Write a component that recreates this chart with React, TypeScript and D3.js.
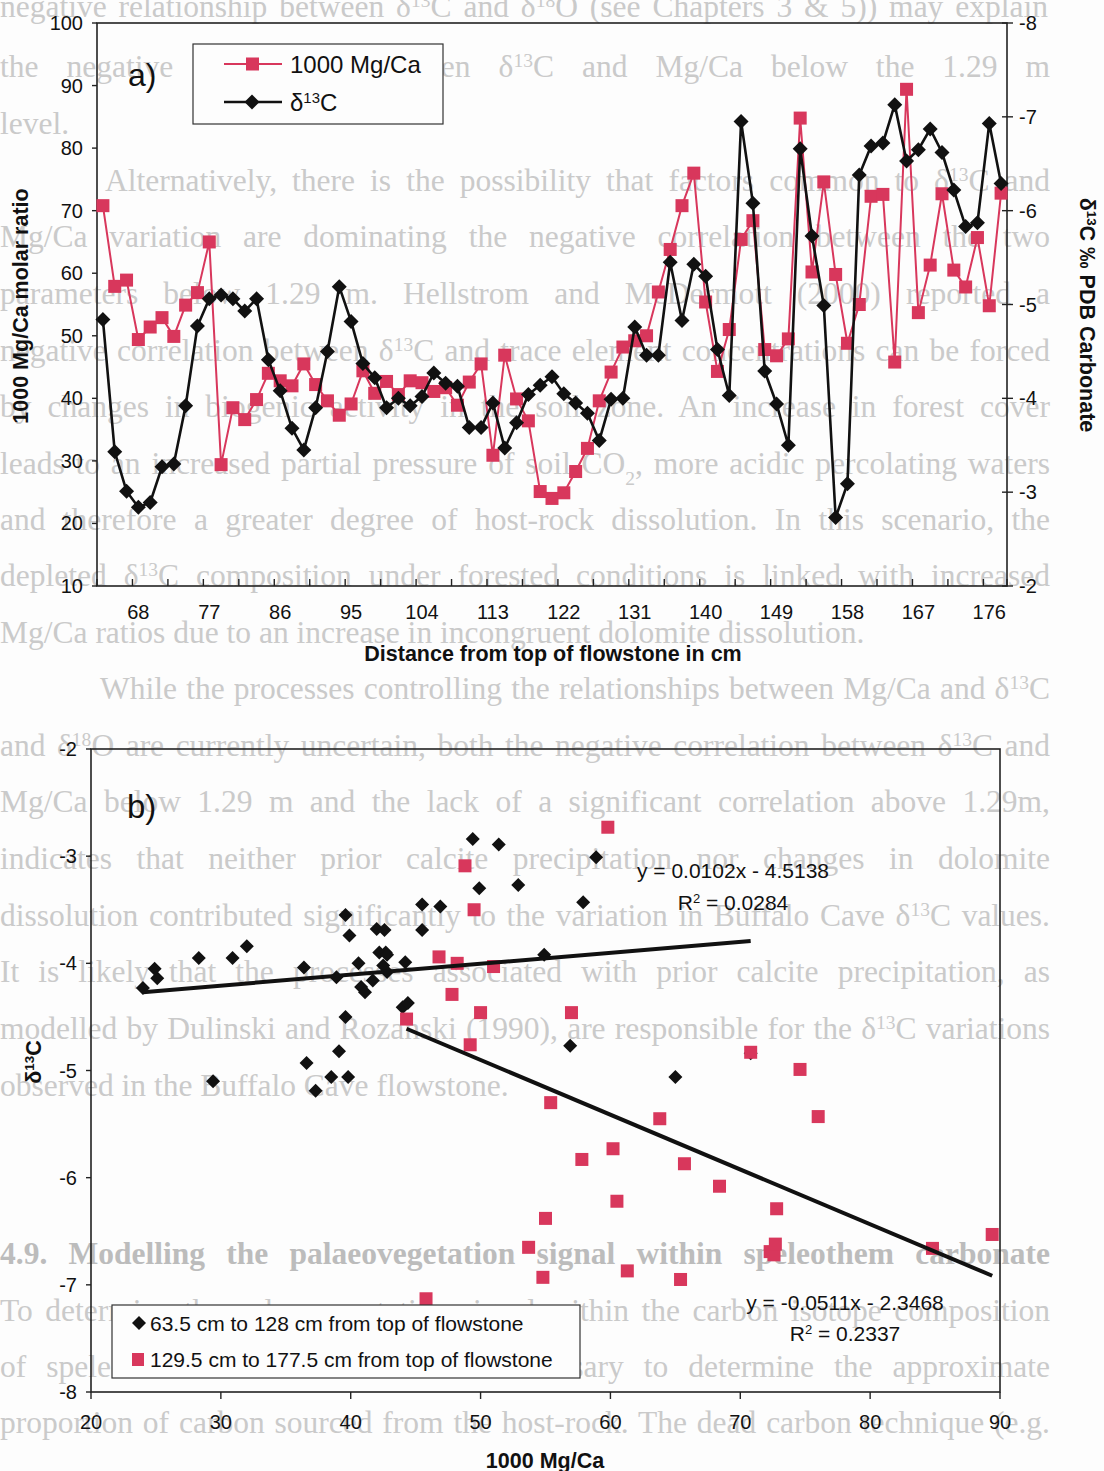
import React, { useLayoutEffect, useRef } from "react";
import * as d3 from "d3";

// Sample depths (cm from top of flowstone), one per measurement
const depthCm = [
  63.5, 65, 66.5, 68, 69.5, 71, 72.5, 74, 75.5, 77, 78.5, 80, 81.5, 83, 84.5, 86,
  87.5, 89, 90.5, 92, 93.5, 95, 96.5, 98, 99.5, 101, 102.5, 104, 105.5, 107, 108.5,
  110, 111.5, 113, 114.5, 116, 117.5, 119, 120.5, 122, 123.5, 125, 126.5, 128, 129.5,
  131, 132.5, 134, 135.5, 137, 138.5, 140, 141.5, 143, 144.5, 146, 147.5, 149, 150.5,
  152, 153.5, 155, 156.5, 158, 159.5, 161, 162.5, 164, 165.5, 167, 168.5, 170, 171.5,
  173, 174.5, 176, 177.5,
];

// 1000 Mg/Ca molar ratio
const mgCa = [
  70.8, 57.9, 58.9, 49.4, 51.4, 52.9, 49.9, 54.9, 56.9, 65.0,
  29.4, 38.5, 36.6, 39.8, 44.0, 42.8, 42.0, 45.5, 42.2, 39.6,
  37.3, 39.1, 44.4, 40.8, 42.7, 40.6, 42.8, 42.5, 41.1, 41.7,
  38.9, 42.6, 45.5, 30.9, 46.9, 39.9, 36.4, 25.1, 24.0, 24.9,
  28.3, 32.0, 39.6, 44.2, 48.2, 49.2, 50.0, 57.0, 63.8, 70.8,
  76.0, 55.4, 44.3, 51.0, 65.4, 68.4, 47.8, 46.8, 49.5, 84.8,
  60.2, 74.6, 59.8, 48.8, 55.0, 72.3, 72.6, 45.8, 89.4, 53.7,
  61.3, 72.7, 60.5, 57.8, 65.7, 54.8, 72.8,
];

// δ13C ‰ PDB carbonate
const d13C = [
  -4.84, -3.43, -3.01, -2.84, -2.89, -3.27, -3.30, -3.92, -4.77, -5.06,
  -5.10, -5.06, -4.93, -5.06, -4.41, -4.08, -3.68, -3.45, -3.90, -4.50,
  -5.19, -4.82, -4.37, -4.22, -3.90, -4.00, -3.92, -4.02, -4.27, -4.16,
  -4.13, -3.69, -3.69, -3.95, -3.47, -3.74, -4.04, -4.14, -4.23, -4.05,
  -3.95, -3.84, -3.55, -3.99, -4.00, -4.76, -4.46, -4.46, -5.45, -4.83,
  -5.43, -5.30, -4.52, -4.03, -6.95, -6.08, -4.29, -3.94, -3.50, -6.66,
  -5.73, -4.99, -2.73, -3.09, -6.38, -6.69, -6.72, -7.13, -6.53, -6.65,
  -6.87, -6.62, -6.22, -5.83, -5.87, -6.93, -6.29,
];

const depthTickLabels = [68, 77, 86, 95, 104, 113, 122, 131, 140, 149, 158, 167, 176];
const mgTicks = [10, 20, 30, 40, 50, 60, 70, 80, 90, 100];
const d13Ticks = [-8, -7, -6, -5, -4, -3, -2];
const scatterXTicks = [20, 30, 40, 50, 60, 70, 80, 90];
const scatterYTicks = [-2, -3, -4, -5, -6, -7, -8];

// Depth split between the two scatter groups
const upperGroupMaxDepth = 128;

// Linear fits as printed on the scatter plot
const upperFit = { slope: 0.0102, intercept: -4.5138, eq: "y = 0.0102x - 4.5138", r2: "0.0284" };
const lowerFit = { slope: -0.0511, intercept: -2.3468, eq: "y = -0.0511x - 2.3468", r2: "0.2337" };

// Body text of the page behind the figure (w = justified line width)
const pageLines = [
  { y: 17, x: 0, w: 1048, t: "negative relationship between δ^13C and δ^18O (see Chapters 3 & 5)) may explain" },
  { y: 77, x: 0, w: 1050, t: "the negative correlation between δ^13C and Mg/Ca below the 1.29 m" },
  { y: 134, x: 0, t: "level." },
  { y: 191, x: 105, w: 945, t: "Alternatively, there is the possibility that factors common to δ^13C and" },
  { y: 247, x: 0, w: 1050, t: "Mg/Ca variation are dominating the negative correlation between the two" },
  { y: 304, x: 0, w: 1050, t: "parameters below 1.29 m. Hellstrom and McDermott (2000) reported a" },
  { y: 361, x: 0, w: 1050, t: "negative correlation between δ^13C and trace element concentrations can be forced" },
  { y: 417, x: 0, w: 1050, t: "by changes in biogenic activity in the soil zone. An increase in forest cover" },
  { y: 474, x: 0, w: 1050, t: "leads to an increased partial pressure of soil CO_2, more acidic percolating waters" },
  { y: 530, x: 0, w: 1050, t: "and therefore a greater degree of host-rock dissolution. In this scenario, the" },
  { y: 586, x: 0, w: 1050, t: "depleted δ^13C composition under forested conditions is linked with increased" },
  { y: 643, x: 0, t: "Mg/Ca ratios due to an increase in incongruent dolomite dissolution." },
  { y: 699, x: 100, w: 950, t: "While the processes controlling the relationships between Mg/Ca and δ^13C" },
  { y: 756, x: 0, w: 1050, t: "and δ^18O are currently uncertain, both the negative correlation between δ^13C and" },
  { y: 812, x: 0, w: 1050, t: "Mg/Ca below 1.29 m and the lack of a significant correlation above 1.29m," },
  { y: 869, x: 0, w: 1050, t: "indicates that neither prior calcite precipitation nor changes in dolomite" },
  { y: 926, x: 0, w: 1050, t: "dissolution contributed significantly to the variation in Buffalo Cave δ^13C values." },
  { y: 982, x: 0, w: 1050, t: "It is likely that the processes associated with prior calcite precipitation, as" },
  { y: 1039, x: 0, w: 1050, t: "modelled by Dulinski and Rozanski (1990), are responsible for the δ^13C variations" },
  { y: 1096, x: 0, t: "observed in the Buffalo Cave flowstone." },
  { y: 1264, x: 0, w: 1050, t: "4.9. Modelling the palaeovegetation signal within speleothem carbonate", bold: true },
  { y: 1321, x: 0, w: 1050, t: "To determine the palaeovegetation signal within the carbon isotope composition" },
  { y: 1377, x: 0, w: 1050, t: "of speleothem carbonate it is first necessary to determine the approximate" },
  { y: 1433, x: 0, w: 1050, t: "proportion of carbon sourced from the host-rock. The dead carbon technique (e.g." },
];

const RED = "#d8375c";
const INK = "#111";
const SANS = "'Liberation Sans', Arial, sans-serif";
const PAPER = "#fdfdfd";

// "^13" -> superscript, "_2" -> subscript
function rich(s: string) {
  return s
    .split(/(\^\d+|_\d+)/)
    .filter(Boolean)
    .map((p, k) => {
      if (p.startsWith("^"))
        return (
          <tspan key={k} baselineShift="super" fontSize="0.62em">
            {p.slice(1)}
          </tspan>
        );
      if (p.startsWith("_"))
        return (
          <tspan key={k} baselineShift="sub" fontSize="0.62em">
            {p.slice(1)}
          </tspan>
        );
      return <tspan key={k}>{p}</tspan>;
    });
}

const diamond = (r: number) => `M0,${-r}L${r},0L0,${r}L${-r},0Z`;

function PageText() {
  const ref = useRef<SVGGElement>(null);
  useLayoutEffect(() => {
    const justify = () => {
      const g = ref.current;
      if (!g) return;
      g.querySelectorAll("text[data-w]").forEach((node) => {
        const el = node as SVGTextElement;
        const w = Number(el.getAttribute("data-w"));
        el.removeAttribute("word-spacing");
        el.removeAttribute("textLength");
        const len = el.getComputedTextLength();
        const spaces = (el.textContent || "").split(" ").length - 1;
        if (len < w && spaces > 0) {
          el.setAttribute("word-spacing", String((w - len) / spaces));
        } else if (len > w) {
          el.setAttribute("textLength", String(w));
          el.setAttribute("lengthAdjust", "spacingAndGlyphs");
        }
      });
    };
    justify();
    if ((document as any).fonts?.ready) (document as any).fonts.ready.then(justify);
  }, []);
  return (
    <g ref={ref} fontFamily="'Liberation Serif', 'Times New Roman', serif" fontSize={31.5}>
      {pageLines.map((ln, k) => (
        <text
          key={k}
          x={ln.x}
          y={ln.y}
          fill={ln.bold ? "#bcbcbc" : "#cacaca"}
          fontWeight={ln.bold ? "bold" : "normal"}
          data-w={ln.w}
        >
          {rich(ln.t)}
        </text>
      ))}
    </g>
  );
}

function TimeSeries() {
  const L = 97, R = 1007, T = 23, B = 586;
  const x = d3.scaleBand<number>().domain(depthCm).range([L, R]);
  const bw = x.bandwidth();
  const cx = (d: number) => (x(d) as number) + bw / 2;
  const yMg = d3.scaleLinear().domain([10, 100]).range([B, T]);
  const yD = d3.scaleLinear().domain([-8, -2]).range([T, B]);

  const mgLine = d3.line<number>().x((_, i) => cx(depthCm[i])).y((v) => yMg(v))(mgCa) || "";
  const dLine = d3.line<number>().x((_, i) => cx(depthCm[i])).y((v) => yD(v))(d13C) || "";

  const tickIdx: number[] = [];
  for (let i = 0; i < depthCm.length; i += 3) tickIdx.push(i);
  tickIdx.push(depthCm.length);

  return (
    <g fontFamily={SANS}>
      <rect x={L} y={T} width={R - L} height={B - T} fill="none" stroke="#222" strokeWidth={1.6} />
      {mgTicks.map((v) => (
        <g key={"l" + v}>
          <line x1={L - 5} x2={L} y1={yMg(v)} y2={yMg(v)} stroke="#222" strokeWidth={1.4} />
          <text x={L - 14} y={yMg(v)} dy="0.35em" textAnchor="end" fontSize={20} fill={INK}>
            {v}
          </text>
        </g>
      ))}
      {d13Ticks.map((v) => (
        <g key={"r" + v}>
          <line x1={R - 5} x2={R + 6} y1={yD(v)} y2={yD(v)} stroke="#222" strokeWidth={1.4} />
          <text x={R + 12} y={yD(v)} dy="0.35em" textAnchor="start" fontSize={20} fill={INK}>
            {v}
          </text>
        </g>
      ))}
      {tickIdx.map((i) => (
        <line key={"t" + i} x1={L + i * bw} x2={L + i * bw} y1={B - 7} y2={B} stroke="#222" strokeWidth={1.4} />
      ))}
      {depthTickLabels.map((d) => (
        <text key={"x" + d} x={cx(d)} y={619} textAnchor="middle" fontSize={20} fill={INK}>
          {d}
        </text>
      ))}

      <path d={mgLine} fill="none" stroke={RED} strokeWidth={2} />
      {mgCa.map((v, i) => (
        <rect key={"m" + i} x={cx(depthCm[i]) - 6.5} y={yMg(v) - 6.5} width={13} height={13} fill={RED} />
      ))}
      <path d={dLine} fill="none" stroke={INK} strokeWidth={2.6} />
      {d13C.map((v, i) => (
        <path key={"d" + i} d={diamond(7.5)} transform={`translate(${cx(depthCm[i])},${yD(v)})`} fill={INK} />
      ))}

      {/* legend */}
      <rect x={193} y={44} width={250} height={80} fill={PAPER} stroke="#333" strokeWidth={1.2} />
      <line x1={224} x2={282} y1={64} y2={64} stroke={RED} strokeWidth={2} />
      <rect x={246} y={57.5} width={13} height={13} fill={RED} />
      <text x={290} y={72.5} fontSize={24} fill={INK}>1000 Mg/Ca</text>
      <line x1={224} x2={282} y1={102} y2={102} stroke={INK} strokeWidth={2.6} />
      <path d={diamond(7.5)} transform="translate(252,102)" fill={INK} />
      <text x={290} y={110.5} fontSize={24} fill={INK}>{rich("δ^13C")}</text>

      <text x={128} y={86} fontSize={32} fill={INK}>a)</text>

      <text x={553} y={661} textAnchor="middle" fontSize={21.5} fontWeight="bold" fill={INK}>
        Distance from top of flowstone in cm
      </text>
      <text transform="translate(20,306) rotate(-90)" dy="0.35em" textAnchor="middle" fontSize={21.5} fontWeight="bold" fill={INK}>
        1000 Mg/Ca molar ratio
      </text>
      <text transform="translate(1088,315) rotate(90)" dy="0.35em" textAnchor="middle" fontSize={21.5} fontWeight="bold" fill={INK}>
        {rich("δ^13C ‰ PDB Carbonate")}
      </text>
    </g>
  );
}

function Scatter() {
  const L = 91, R = 1000, T = 749, B = 1392;
  const x = d3.scaleLinear().domain([20, 90]).range([L, R]);
  const y = d3.scaleLinear().domain([-8, -2]).range([B, T]);

  const upper = depthCm.map((_, i) => i).filter((i) => depthCm[i] <= upperGroupMaxDepth);
  const lower = depthCm.map((_, i) => i).filter((i) => depthCm[i] > upperGroupMaxDepth);

  const fitPath = (idx: number[], fit: { slope: number; intercept: number }) => {
    const [x0, x1] = d3.extent(idx.map((i) => mgCa[i])) as [number, number];
    return d3.line<number>().x((v) => x(v)).y((v) => y(fit.slope * v + fit.intercept))([x0, x1]) || "";
  };

  return (
    <g fontFamily={SANS}>
      <rect x={L} y={T} width={R - L} height={B - T} fill="none" stroke="#222" strokeWidth={1.6} />
      {scatterYTicks.map((v) => (
        <g key={"y" + v}>
          <line x1={L - 5} x2={L} y1={y(v)} y2={y(v)} stroke="#222" strokeWidth={1.4} />
          <text x={L - 14} y={y(v)} dy="0.35em" textAnchor="end" fontSize={20} fill={INK}>
            {v}
          </text>
        </g>
      ))}
      {scatterXTicks.map((v) => (
        <g key={"x" + v}>
          <line x1={x(v)} x2={x(v)} y1={B} y2={B + 7} stroke="#222" strokeWidth={1.4} />
          <text x={x(v)} y={1429} textAnchor="middle" fontSize={20} fill={INK}>
            {v}
          </text>
        </g>
      ))}

      {upper.map((i) => (
        <path key={"u" + i} d={diamond(7)} transform={`translate(${x(mgCa[i])},${y(d13C[i])})`} fill={INK} />
      ))}
      {lower.map((i) => (
        <rect key={"w" + i} x={x(mgCa[i]) - 6.5} y={y(d13C[i]) - 6.5} width={13} height={13} fill={RED} />
      ))}

      <path d={fitPath(upper, upperFit)} stroke={INK} strokeWidth={4} fill="none" />
      <path d={fitPath(lower, lowerFit)} stroke={INK} strokeWidth={4} fill="none" />

      <text x={733} y={878} textAnchor="middle" fontSize={21} fill={INK}>{upperFit.eq}</text>
      <text x={733} y={910} textAnchor="middle" fontSize={21} fill={INK}>{rich("R^2 = " + upperFit.r2)}</text>
      <text x={845} y={1310} textAnchor="middle" fontSize={21} fill={INK}>{lowerFit.eq}</text>
      <text x={845} y={1341} textAnchor="middle" fontSize={21} fill={INK}>{rich("R^2 = " + lowerFit.r2)}</text>

      {/* legend */}
      <rect x={112} y={1305} width={468} height={73} fill={PAPER} stroke="#333" strokeWidth={1.2} />
      <path d={diamond(7)} transform="translate(139,1323)" fill={INK} />
      <text x={150} y={1330.5} fontSize={21} fill={INK}>63.5 cm to 128 cm from top of flowstone</text>
      <rect x={132} y={1353} width={12} height={13} fill={RED} />
      <text x={150} y={1366.5} fontSize={21} fill={INK}>129.5 cm to 177.5 cm from top of flowstone</text>

      <text x={127} y={818} fontSize={33} fill={INK}>b)</text>

      <text x={545} y={1468} textAnchor="middle" fontSize={21.5} fontWeight="bold" fill={INK}>
        1000 Mg/Ca
      </text>
      <text transform="translate(33,1062) rotate(-90)" dy="0.35em" textAnchor="middle" fontSize={21.5} fontWeight="bold" fill={INK}>
        {rich("δ^13C")}
      </text>
    </g>
  );
}

export default function App() {
  return (
    <svg
      width={1104}
      height={1471}
      viewBox="0 0 1104 1471"
      style={{ position: "absolute", left: 0, top: 0, display: "block" }}
    >
      <rect width={1104} height={1471} fill={PAPER} />
      <PageText />
      <TimeSeries />
      <Scatter />
    </svg>
  );
}
